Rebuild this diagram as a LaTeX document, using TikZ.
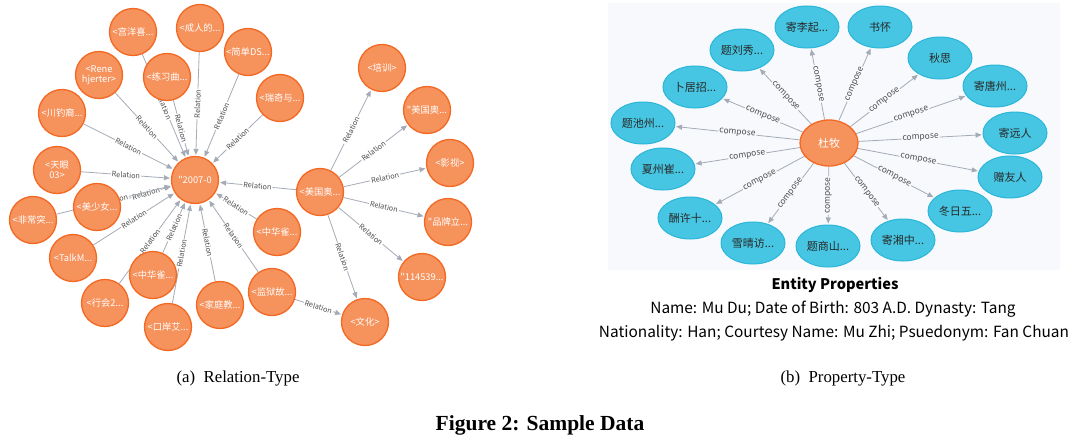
\documentclass[tikz,border=0pt]{standalone}
\usepackage{fontspec}
\setmainfont{Liberation Serif}
\newfontfamily\cjk{Noto Sans CJK SC}
\usetikzlibrary{arrows.meta,shapes.geometric}
\definecolor{ofill}{RGB}{246,146,92}
\definecolor{ostroke}{RGB}{243,105,36}
\definecolor{bfill}{RGB}{70,198,226}
\definecolor{bstroke}{RGB}{42,182,216}
\definecolor{edgec}{RGB}{165,171,182}
\definecolor{labc}{RGB}{80,80,80}
\definecolor{btext}{RGB}{40,40,40}
\definecolor{panelbg}{RGB}{247,249,252}
\pgfdeclarelayer{back}
\pgfdeclarelayer{edges}
\pgfsetlayers{back,edges,main}
\tikzset{
  onode/.style={circle, draw=ostroke, fill=ofill, line width=1.3pt, minimum size=47pt, inner sep=0pt, text=white, font=\cjk\fontsize{9.3}{10.5}\selectfont, align=center},
  bnode/.style={ellipse, draw=bstroke, fill=bfill, line width=1pt, minimum width=64pt, minimum height=42pt, inner sep=0pt, text=btext, font=\cjk\fontsize{11}{12}\selectfont},
  cnode/.style={ellipse, draw=ostroke, fill=ofill, line width=1.3pt, minimum width=58pt, minimum height=46pt, inner sep=0pt, text=white, font=\cjk\fontsize{11}{12}\selectfont},
  rel/.style={draw=edgec, line width=0.8pt, -{Triangle[length=6pt,width=5pt]}, shorten >=1pt},
  rlab/.style={pos=0.5, sloped, fill=white, inner sep=1pt, font=\cjk\fontsize{7.3}{8}\selectfont, text=labc},
  clab/.style={midway, sloped, fill=panelbg, inner sep=1pt, font=\cjk\fontsize{8.5}{9}\selectfont, text=labc},
  capt/.style={font=\fontsize{16.8}{18}\selectfont},
  prop/.style={font=\cjk\fontsize{15.4}{17}\selectfont}
}
\begin{document}
\begin{tikzpicture}[x=1pt,y=-1pt]
\useasboundingbox (0,0) rectangle (1080,447);
\begin{pgfonlayer}{back}
  \fill[white] (0,0) rectangle (1080,447);
  \fill[panelbg] (608,3) rectangle (1060,270);
\end{pgfonlayer}
% ---------- left graph ----------
\node[onode] (c1) at (195,180) {"2007-0};
\node[onode] (gy) at (133,32) {<宫洋喜...};
\node[onode] (cr) at (200,28) {<成人的...};
\node[onode] (jd) at (248,52) {<简单DS...};
\node[onode] (rq) at (280,98) {<瑞奇与...};
\node[onode] (rh) at (99,75) {<Rene\\hjerter>};
\node[onode] (lx) at (167,77) {<练习曲...};
\node[onode] (cd) at (62,113) {<川钓裔...};
\node[onode] (ty) at (57,170) {<天眼\\03>};
\node[onode] (ms) at (97,207) {<美少女...};
\node[onode] (fc) at (33,220) {<非常突...};
\node[onode] (tk) at (73,258) {<TalkM...};
\node[onode] (hh) at (105,303) {<行会2...};
\node[onode] (zha) at (153,275) {<中华雀...};
\node[onode] (ka) at (168,327) {<口岸艾...};
\node[onode] (jt) at (220,305) {<家庭教...};
\node[onode] (jy) at (272,292) {<监狱故...};
\node[onode] (zhb) at (277,232) {<中华雀...};
\node[onode] (mg) at (320,192) {<美国奥...};
\node[onode] (wh) at (365,322) {<文化>};
\node[onode] (px) at (382,68) {<培训>};
\node[onode] (mgb) at (427,110) {"美国奥...};
\node[onode] (ys) at (450,163) {<影视>};
\node[onode] (pp) at (448,222) {"品牌立...};
\node[onode] (num) at (422,277) {"114539...};
\begin{pgfonlayer}{edges}
  \foreach \s in {gy,cr,jd,rq,rh,lx,cd,ty,ms,fc,tk,hh,zha,ka,jt,jy,zhb,mg}
    \draw[rel] (\s) -- node[rlab]{Relation} (c1);
  \foreach \t in {px,mgb,ys,pp,num,wh}
    \draw[rel] (mg) -- node[rlab]{Relation} (\t);
  \draw[rel] (jy) -- node[rlab]{Relation} (wh);
\end{pgfonlayer}
% ---------- right graph ----------
\node[cnode] (dm) at (829,143) {杜牧};
\node[bnode] (b1) at (807,27) {寄李起...};
\node[bnode] (b2) at (880,27) {书怀};
\node[bnode] (b3) at (742,50) {题刘秀...};
\node[bnode] (b4) at (940,58) {秋思};
\node[bnode] (b5) at (695,87) {卜居招...};
\node[bnode] (b6) at (995,86) {寄唐州...};
\node[bnode] (b7) at (643,123) {题池州...};
\node[bnode] (b8) at (1015,133) {寄远人};
\node[bnode] (b9) at (663,169) {夏州崔...};
\node[bnode] (b10) at (1010,177) {赠友人};
\node[bnode] (b11) at (690,218) {酬许十...};
\node[bnode] (b12) at (960,211) {冬日五...};
\node[bnode] (b13) at (753,243) {雪晴访...};
\node[bnode] (b14) at (828,246) {题商山...};
\node[bnode] (b15) at (903,240) {寄湘中...};
\begin{pgfonlayer}{edges}
  \foreach \t in {b1,b2,b3,b4,b5,b6,b7,b8,b9,b10,b11,b12,b13,b14,b15}
    \draw[rel] (dm) -- node[clab]{compose} (\t);
\end{pgfonlayer}
% ---------- texts ----------
\node[font=\cjk\bfseries\fontsize{14.6}{16}\selectfont] (ep) at (835,285) {Entity Properties};
\node[prop] (l1) at (833,309) {Name: Mu Du; Date of Birth: 803 A.D. Dynasty: Tang};
\node[prop] (l2) at (834,333) {Nationality: Han; Courtesy Name: Mu Zhi; Psuedonym: Fan Chuan};
\node[capt] (ca) at (238,378) {(a)\enspace Relation-Type};
\node[capt] (cb) at (843,378) {(b)\enspace Property-Type};
\node[font=\bfseries\fontsize{21.5}{24}\selectfont] (fig) at (540,425) {Figure 2: Sample Data};
\end{tikzpicture}
\end{document}
